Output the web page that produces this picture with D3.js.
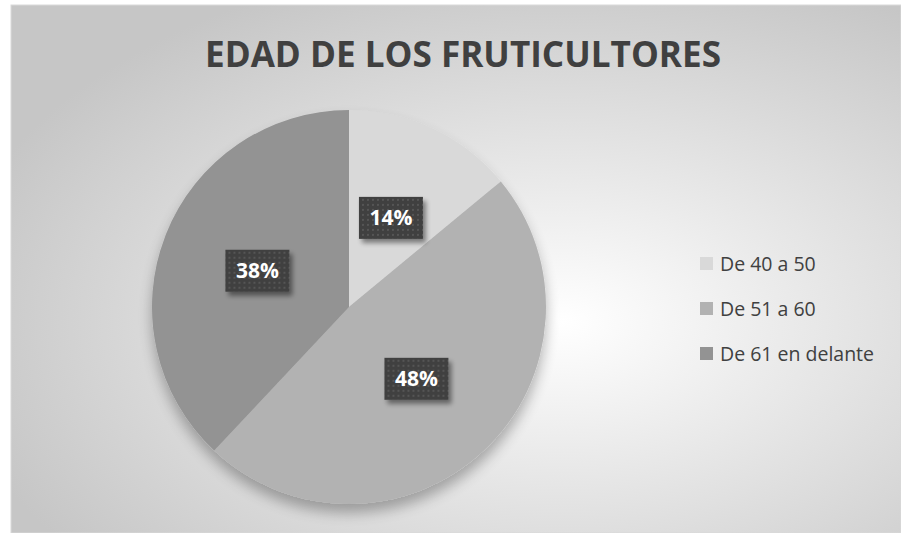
<!DOCTYPE html>
<html>
<head>
  <meta charset="utf-8">
  <title>Edad de los fruticultores</title>
  <script src="https://d3js.org/d3.v7.min.js"></script>
  <style>
    body { margin: 0; background: #fff; }
    svg { display: block; font-family: "Open Sans", "Noto Sans", sans-serif; }
  </style>
</head>
<body>
  <svg id="chart"></svg>

  <script>
    // data
    var categories = ["De 40 a 50", "De 51 a 60", "De 61 en delante"];
    var shares = [14, 48, 38];
    var sliceColors = ["#d9d9d9", "#b2b2b2", "#939393"];
    var title = "EDAD DE LOS FRUTICULTORES";

    var width = 901, height = 533;
    var svg = d3.select("#chart").attr("width", width).attr("height", height);
    var defs = svg.append("defs");

    // background radial gradient
    var bg = defs.append("radialGradient").attr("id", "bg")
      .attr("cx", "0.62").attr("cy", "0.6").attr("r", "0.7");
    bg.append("stop").attr("offset", "0").attr("stop-color", "#ffffff");
    bg.append("stop").attr("offset", "1").attr("stop-color", "#c6c6c6");

    // soft shadow for pie and labels
    var sh = defs.append("filter").attr("id", "shadow")
      .attr("x", "-20%").attr("y", "-20%").attr("width", "140%").attr("height", "150%");
    sh.append("feGaussianBlur").attr("in", "SourceAlpha").attr("stdDeviation", 7).attr("result", "b");
    sh.append("feOffset").attr("in", "b").attr("dy", 9).attr("result", "o");
    sh.append("feComponentTransfer").attr("in", "o").attr("result", "s")
      .append("feFuncA").attr("type", "linear").attr("slope", 0.3);
    var m = sh.append("feMerge");
    m.append("feMergeNode").attr("in", "s");
    m.append("feMergeNode").attr("in", "SourceGraphic");

    var sh2 = defs.append("filter").attr("id", "lblshadow")
      .attr("x", "-30%").attr("y", "-30%").attr("width", "170%").attr("height", "180%");
    sh2.append("feGaussianBlur").attr("in", "SourceAlpha").attr("stdDeviation", 2.5).attr("result", "b");
    sh2.append("feOffset").attr("in", "b").attr("dx", 3).attr("dy", 4).attr("result", "o");
    sh2.append("feComponentTransfer").attr("in", "o").attr("result", "s")
      .append("feFuncA").attr("type", "linear").attr("slope", 0.45);
    var m2 = sh2.append("feMerge");
    m2.append("feMergeNode").attr("in", "s");
    m2.append("feMergeNode").attr("in", "SourceGraphic");

    // dotted pattern in label boxes
    var pat = defs.append("pattern").attr("id", "dots")
      .attr("width", 5).attr("height", 5).attr("patternUnits", "userSpaceOnUse");
    pat.append("rect").attr("width", 5).attr("height", 5).attr("fill", "#404040");
    pat.append("rect").attr("x", 1).attr("y", 1).attr("width", 2).attr("height", 2).attr("fill", "#555555");

    // chart area
    svg.append("rect").attr("x", 11).attr("y", 5)
      .attr("width", width - 11).attr("height", height - 5)
      .attr("fill", "url(#bg)").attr("stroke", "#d9d9d9");

    svg.append("text")
      .attr("x", 463).attr("y", 67)
      .attr("text-anchor", "middle")
      .attr("font-size", 35).attr("font-weight", "bold")
      .attr("fill", "#404040")
      .attr("textLength", 516).attr("lengthAdjust", "spacingAndGlyphs")
      .text(title);

    // pie
    var cx = 349, cy = 307, R = 197;
    var pie = d3.pie().sort(null).value(function(d) { return d; });
    var arcs = pie(shares);
    var arc = d3.arc().innerRadius(0).outerRadius(R);
    var lblArc = d3.arc().innerRadius(R * 0.5).outerRadius(R * 0.5);
    var color = d3.scaleOrdinal().domain(categories).range(sliceColors);

    var g = svg.append("g").attr("transform", "translate(" + cx + "," + cy + ")");
    g.append("g").attr("filter", "url(#shadow)")
      .selectAll("path").data(arcs).enter().append("path")
      .attr("d", arc)
      .attr("fill", function(d, i) { return color(categories[i]); });

    var lbl = g.selectAll("g.lbl").data(arcs).enter().append("g")
      .attr("class", "lbl")
      .attr("transform", function(d) { return "translate(" + lblArc.centroid(d) + ")"; });
    lbl.append("rect")
      .attr("x", -32).attr("y", -21).attr("width", 64).attr("height", 42)
      .attr("fill", "url(#dots)").attr("filter", "url(#lblshadow)");
    lbl.append("text")
      .attr("text-anchor", "middle").attr("dy", "0.36em")
      .attr("font-size", 21).attr("font-weight", "bold")
      .attr("fill", "#ffffff")
      .text(function(d) { return d.data + "%"; });

    // legend
    var leg = svg.append("g").selectAll("g").data(categories).enter().append("g")
      .attr("transform", function(d, i) { return "translate(700," + (264 + i * 45) + ")"; });
    leg.append("rect").attr("x", 0).attr("y", -7).attr("width", 13).attr("height", 13)
      .attr("fill", function(d) { return color(d); });
    leg.append("text").attr("x", 20).attr("dy", "0.35em")
      .attr("font-size", 19.5).attr("fill", "#404040")
      .text(function(d) { return d; });
  </script>
</body>
</html>
